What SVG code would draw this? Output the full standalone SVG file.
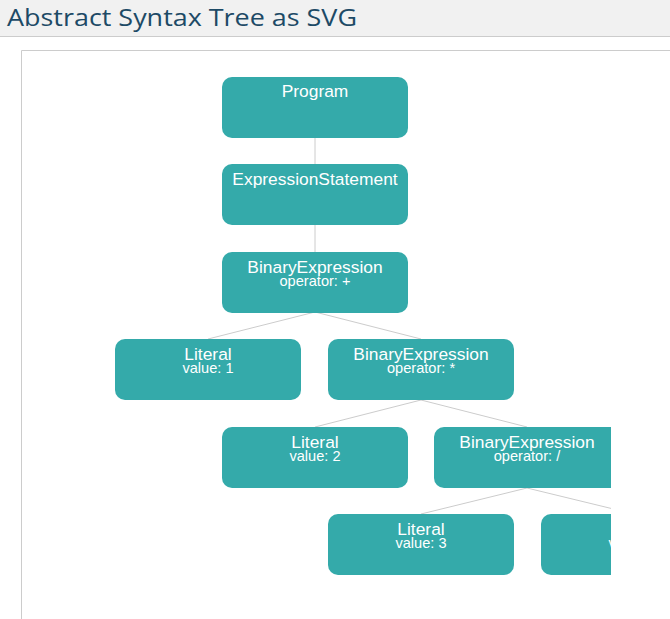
<svg xmlns="http://www.w3.org/2000/svg" width="670" height="619" viewBox="0 0 670 619">
<style>
.node rect{fill:#34aaaa}
.t{font-family:"Liberation Sans",Arial,sans-serif;fill:#ffffff;text-anchor:middle}
.n{font-size:17.4px}
.s{font-size:14.6px}
#edges line{stroke:#cccccc;stroke-width:1}
</style>
<defs>
<clipPath id="clip"><rect x="21" y="50" width="590" height="569"/></clipPath>
</defs>
<rect x="0" y="0" width="670" height="619" fill="#ffffff"/>
<g id="header">
<rect x="0" y="0" width="670" height="36" fill="#f1f1f1"/>
<line x1="0" y1="36.5" x2="670" y2="36.5" stroke="#cccccc" stroke-width="1"/>
<text x="7" y="26" font-family="'Open Sans','DejaVu Sans',sans-serif" font-size="23" fill="#1d4a66" textLength="350" lengthAdjust="spacingAndGlyphs">Abstract Syntax Tree as SVG</text>
</g>
<path d="M21.5 619 V50.5 H670" fill="none" stroke="#cccccc" stroke-width="1"/>
<g clip-path="url(#clip)">
<g id="edges">
<line x1="315" y1="137" x2="315" y2="164"/>
<line x1="315" y1="225" x2="315" y2="252"/>
<line x1="315" y1="312" x2="208" y2="339"/>
<line x1="315" y1="312" x2="421" y2="339"/>
<line x1="421" y1="400" x2="315" y2="427"/>
<line x1="421" y1="400" x2="527" y2="427"/>
<line x1="527" y1="488" x2="421" y2="514"/>
<line x1="527" y1="488" x2="634" y2="514"/>
</g>
<g id="program" class="node"><rect x="222" y="77" width="186" height="61" rx="10"/><text class="t n" x="315" y="97">Program</text></g>
<g id="exprstmt" class="node"><rect x="222" y="164" width="186" height="61" rx="10"/><text class="t n" x="315" y="185">ExpressionStatement</text></g>
<g id="binplus" class="node"><rect x="222" y="252" width="186" height="61" rx="10"/><text class="t n" x="315" y="272.5">BinaryExpression</text><text class="t s" x="315" y="285.5">operator: +</text></g>
<g id="lit1" class="node"><rect x="115" y="339" width="186" height="61" rx="10"/><text class="t n" x="208" y="360">Literal</text><text class="t s" x="208" y="373">value: 1</text></g>
<g id="binmul" class="node"><rect x="328" y="339" width="186" height="61" rx="10"/><text class="t n" x="421" y="360">BinaryExpression</text><text class="t s" x="421" y="373">operator: *</text></g>
<g id="lit2" class="node"><rect x="222" y="427" width="186" height="61" rx="10"/><text class="t n" x="315" y="447.5">Literal</text><text class="t s" x="315" y="460.5">value: 2</text></g>
<g id="bindiv" class="node"><rect x="434" y="427" width="186" height="61" rx="10"/><text class="t n" x="527" y="447.5">BinaryExpression</text><text class="t s" x="527" y="460.5">operator: /</text></g>
<g id="lit3" class="node"><rect x="328" y="514" width="186" height="61" rx="10"/><text class="t n" x="421" y="535">Literal</text><text class="t s" x="421" y="548">value: 3</text></g>
<g id="lit4" class="node"><rect x="541" y="514" width="186" height="61" rx="10"/><text class="t n" x="634" y="535">Literal</text><text class="t s" x="634" y="548">value: 4</text></g>
</g>
</svg>
